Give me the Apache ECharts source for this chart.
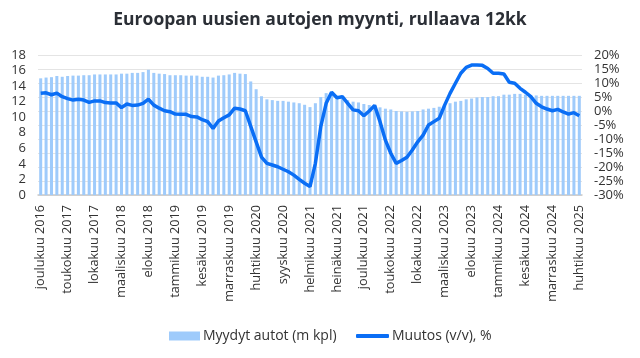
<!DOCTYPE html>
<html><head><meta charset="utf-8">
<script src="https://cdn.jsdelivr.net/npm/echarts@6/dist/echarts.min.js"></script>
<style>html,body{margin:0;padding:0;background:#fff}#c{width:640px;height:358px}</style>
</head><body><div id="c"></div>
<script>
const monthNames = ['tammikuu','helmikuu','maaliskuu','huhtikuu','toukokuu','kesäkuu','heinäkuu','elokuu','syyskuu','lokakuu','marraskuu','joulukuu'];
const startYear = 2016, startMonth = 11, monthCount = 101;
const categories = [];
for (let k = 0; k < monthCount; k++) {
  const m = (startMonth + k) % 12, y = startYear + Math.floor((startMonth + k) / 12);
  categories.push(monthNames[m] + ' ' + y);
}
const soldCars = [
  15.0, 15.1, 15.15, 15.3, 15.2, 15.3, 15.35, 15.35, 15.4, 15.4, 15.5, 15.5, 15.5, 15.5, 15.5, 15.6, 15.6, 15.7, 15.7, 15.8,
  16.1, 15.7, 15.6, 15.55, 15.4, 15.4, 15.4, 15.35, 15.35, 15.35, 15.2, 15.2, 15.1, 15.35, 15.4, 15.5, 15.7, 15.6, 15.55, 14.6, 13.6,
  12.7, 12.3, 12.2, 12.1, 12.1, 12.0, 11.9, 11.8, 11.6, 11.3, 11.8, 12.6, 13.1, 13.2, 12.6, 12.4, 12.2, 12.0, 11.9, 11.7,
  11.57, 11.44, 11.27, 11.1, 11.0, 10.8, 10.75, 10.7, 10.75, 10.8, 11.0, 11.1, 11.2, 11.35, 11.5, 11.8, 12.0, 12.1, 12.3, 12.4, 12.55,
  12.6, 12.6, 12.7, 12.7, 12.9, 12.9, 13.0, 13.0, 12.9, 12.8, 12.8, 12.75, 12.75, 12.75, 12.75, 12.75, 12.75, 12.75, 12.75
];
const changeYoY = [
  6.3, 6.5, 5.8, 6.4, 5.1, 4.4, 3.9, 4.2, 3.9, 3.1, 3.6, 3.6, 3.0, 2.9, 2.9, 1.2, 2.5, 2.0, 2.1, 2.7,
  4.2, 2.1, 1.0, 0.1, -0.25, -1.1, -1.2, -1.2, -2.0, -2.1, -3.1, -3.8, -6.2, -3.6, -2.4, -1.4, 1.0, 0.7, 0.1, -5.5, -11,
  -16.5, -18.7, -19.3, -19.9, -20.8, -21.7, -22.9, -24.4, -25.8, -27.0, -18.7, -5.6, 2.75, 6.7, 4.75, 5.1, 2.75, 0.4, 0.1, -1.7,
  0.0, 2.0, -3.8, -10.4, -15.1, -18.7, -17.7, -16.5, -13.9, -11.0, -8.6, -5.0, -3.8, -2.6, 2.1, 6.3, 9.9, 13.5, 15.6, 16.4, 16.4,
  16.3, 15.2, 13.5, 13.5, 13.2, 10.25, 9.9, 8.1, 6.7, 5.1, 2.75, 1.5, 0.7, 0.1, 0.6, -0.35, -1.1, -0.6, -1.7
];
const seriesNames = ['Myydyt autot (m kpl)', 'Muutos (v/v), %'];
const titleText = 'Euroopan uusien autojen myynti, rullaava 12kk';

const font = 'Open Sans';
const barColor = '#9fcbfb', lineColor = '#0a6ef5';
const legendText = {fontFamily: font, fontSize: 14, color: '#333', padding: [0, 0, 0, -2]};
const chart = echarts.init(document.getElementById('c'), null, {renderer: 'canvas'});
chart.setOption({
  animation: false,
  textStyle: {fontFamily: font},
  title: {text: titleText, left: 'center', top: 6,
    textStyle: {fontFamily: font, fontSize: 17.5, fontWeight: 'bold', color: '#2b2f36'}},
  legend: [
    {left: 164, bottom: 10, itemWidth: 31, itemHeight: 9, textStyle: legendText,
     data: [{name: seriesNames[0], icon: 'rect', itemStyle: {color: barColor}}]},
    {left: 351, bottom: 10, itemWidth: 33, itemHeight: 4, textStyle: legendText,
     data: [{name: seriesNames[1], icon: 'roundRect', itemStyle: {color: lineColor}}]}
  ],
  grid: {left: 38, right: 58, top: 55, bottom: 163, containLabel: false},
  xAxis: {type: 'category', data: categories, boundaryGap: true,
    axisLine: {lineStyle: {color: '#c8c8c8', width: 1.5}},
    axisTick: {show: false},
    axisLabel: {interval: 4, rotate: 90, fontSize: 12.7, color: '#333', margin: 10, fontFamily: font}},
  yAxis: [
    {type: 'value', min: 0, max: 18, interval: 2, position: 'left',
     axisLabel: {fontSize: 13, color: '#333', margin: 12, fontFamily: font},
     axisLine: {show: false}, axisTick: {show: false}, splitLine: {show: false}},
    {type: 'value', min: -30, max: 20, interval: 5, position: 'right',
     axisLabel: {fontSize: 13, color: '#333', margin: 12, formatter: '{value}%', fontFamily: font},
     axisLine: {show: false}, axisTick: {show: false},
     splitLine: {show: true, lineStyle: {color: '#e4e4e4', width: 1}}}
  ],
  series: [
    {name: seriesNames[0], type: 'bar', yAxisIndex: 0, data: soldCars, barWidth: '56%',
     itemStyle: {color: barColor}},
    {name: seriesNames[1], type: 'line', yAxisIndex: 1, data: changeYoY, symbol: 'none', smooth: false,
     lineStyle: {color: lineColor, width: 3.5}, itemStyle: {color: lineColor}}
  ]
});
</script></body></html>
